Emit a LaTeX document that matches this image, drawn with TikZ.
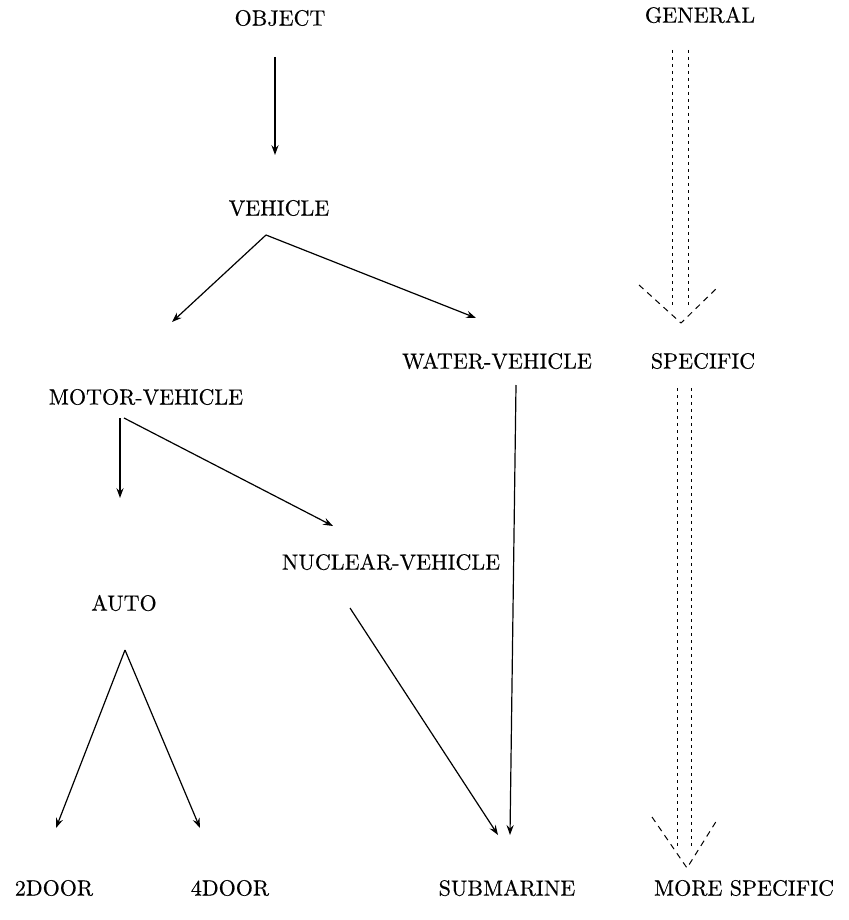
\documentclass[tikz,border=0pt]{standalone}
\usepackage{fontspec}
\setmainfont{lmroman10-regular.otf}[FakeBold=0.35]
\usetikzlibrary{arrows.meta}
\begin{document}
\begin{tikzpicture}[x=0.5pt,y=-0.5pt,
  lbl/.style={inner sep=0pt,font=\fontsize{11}{13}\selectfont},
  link/.style={line width=0.6pt,-{Stealth[length=5pt,width=3.6pt,inset=1.8pt]}},
  rail/.style={line width=0.5pt,dash pattern=on 1.5pt off 2pt},
  barb/.style={line width=0.5pt,dash pattern=on 3pt off 2.5pt}]
\useasboundingbox (0,0) rectangle (849,920);

% class hierarchy
\node[lbl] (obj)  at (280,18)  {OBJECT};
\node[lbl] (veh)  at (279,208) {VEHICLE};
\node[lbl] (wv)   at (497,361) {WATER-VEHICLE};
\node[lbl] (mv)   at (146,397) {MOTOR-VEHICLE};
\node[lbl] (nuc)  at (391,562) {NUCLEAR-VEHICLE};
\node[lbl] (auto) at (124,603) {AUTO};
\node[lbl] (d2)   at (54,888)  {2DOOR};
\node[lbl] (d4)   at (230,888) {4DOOR};
\node[lbl] (sub)  at (507,888) {SUBMARINE};

% specificity scale
\node[lbl] (gen)  at (700,15)  {GENERAL};
\node[lbl] (spec) at (703,361) {SPECIFIC};
\node[lbl] (more) at (744,888) {MORE SPECIFIC};

% is-a links
\draw[link] ([shift={(-5,39)}]obj.center) -- ([shift={(-4,-53)}]veh.center);
\draw[link] ([shift={(-13,27)}]veh.center) -- ([shift={(26,-75)}]mv.center);
\draw[link] ([shift={(-13,27)}]veh.center) -- ([shift={(-21,-43)}]wv.center);
\draw[link] ([shift={(-26,21)}]mv.center) -- ([shift={(-4,-105)}]auto.center);
\draw[link] ([shift={(-22,21)}]mv.center) -- ([shift={(-58,-36)}]nuc.center);
\draw[link] ([shift={(1,47)}]auto.center) -- ([shift={(2,-60)}]d2.center);
\draw[link] ([shift={(1,47)}]auto.center) -- ([shift={(-30,-60)}]d4.center);
\draw[link] ([shift={(-41,46)}]nuc.center) -- ([shift={(-9,-53)}]sub.center);
\draw[link] ([shift={(19,24)}]wv.center) -- ([shift={(3,-53)}]sub.center);

% general -> specific
\draw[rail] ([shift={(-28,35)}]gen.center) -- ([shift={(-31,-54)}]spec.center);
\draw[rail] ([shift={(-12,35)}]gen.center) -- ([shift={(-15,-54)}]spec.center);
\draw[barb] ([shift={(-64,-76)}]spec.center) -- ([shift={(-22,-38)}]spec.center)
            -- ([shift={(16,-75)}]spec.center);

% specific -> more specific
\draw[rail] ([shift={(-26,27)}]spec.center) -- ([shift={(-67,-38)}]more.center);
\draw[rail] ([shift={(-12,27)}]spec.center) -- ([shift={(-53,-38)}]more.center);
\draw[barb] ([shift={(-92,-71)}]more.center) -- ([shift={(-57,-20)}]more.center)
            -- ([shift={(-27,-68)}]more.center);
\end{tikzpicture}
\end{document}
